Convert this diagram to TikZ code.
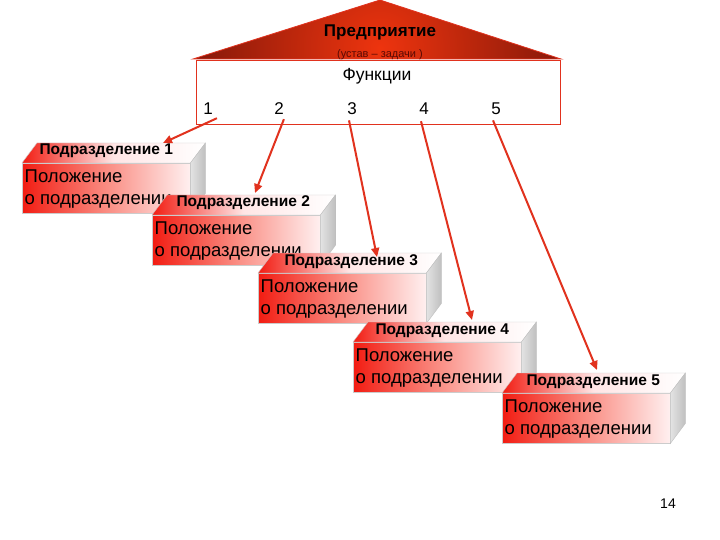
\documentclass[tikz,border=0pt]{standalone}
\usepackage{fontspec}
\setmainfont{Liberation Sans}
\usetikzlibrary{arrows.meta,calc}
\definecolor{brred}{RGB}{238,52,14}
\definecolor{dkred}{RGB}{125,22,10}
\definecolor{subred}{RGB}{90,10,4}
\definecolor{frontred}{RGB}{242,28,18}
\definecolor{frontmid}{RGB}{250,140,130}
\definecolor{frontpink}{RGB}{255,240,240}
\definecolor{linered}{RGB}{225,50,30}
\tikzset{
  front/.style={draw=gray!40, line width=0.4pt, left color=frontred, right color=frontpink, middle color=frontmid,
    minimum width=168pt, minimum height=50pt, inner sep=0pt, anchor=north west},
  fronttext/.style={inner sep=0pt, align=left, anchor=north west, font=\fontsize{18.5}{21.5}\selectfont},
  topface/.style={draw=gray!40, line width=0.4pt, left color=frontred, right color=white, middle color=red!10!white},
  sideface/.style={draw=gray!50, line width=0.4pt, left color=gray!22, right color=gray!50},
  toplabel/.style={font=\bfseries\fontsize{15.5}{17}\selectfont, inner sep=0pt, anchor=base},
  num/.style={font=\fontsize{17}{19}\selectfont, inner sep=1pt},
  conn/.style={draw=linered, line width=2pt, -{Triangle[width=8pt,length=9pt]}}
}
\newcommand\mycube[4]{%
  \node[front] (#1) at (#2) {};
  \node[fronttext] (#1txt) at ($(#1.north west)+(2.5,7)$) {Положение\\о подразделении};
  \path[topface] (#1.north west) -- ++(15,-20) -- ($(#1.north east)+(15,-20)$) -- (#1.north east) -- cycle;
  \path[sideface] (#1.north east) -- ++(15,-20) -- ($(#1.south east)+(15,-20)$) -- (#1.south east) -- cycle;
  \node[toplabel] (#1lab) at ($(#1.north)+(#4,-8)$) {Подразделение #3};
  \coordinate (#1top) at ($(#1.north west)+(15,-20)$);
}
\begin{document}
\begin{tikzpicture}[x=1pt,y=-1pt]
\useasboundingbox[fill=white] (0,0) rectangle (720,540);
% roof
\begin{scope}
  \clip (193,59) -- (380,0) -- (561,59) -- cycle;
  \shade[inner color=brred, outer color=dkred] (380,48) circle[radius=200];
\end{scope}
\draw[linered, line width=0.8pt] (193,59) -- (380,0) -- (561,59) -- cycle;
\node[font=\bfseries\fontsize{17}{19}\selectfont, inner sep=0pt, anchor=base] (ent) at (380,37) {Предприятие};
\node[font=\fontsize{11}{12}\selectfont, text=subred, inner sep=0pt, anchor=base] (ust) at (380,57.5) {(устав – задачи )};
% functions box
\node[draw=linered, line width=1.2pt, minimum width=364pt, minimum height=64pt, anchor=north west, inner sep=0pt] (func) at (196,60) {};
\node[font=\fontsize{17.5}{19}\selectfont, inner sep=0pt, anchor=base] (ftxt) at (377,81) {Функции};
\node[num, anchor=base] (n1) at (208,115) {1};
\node[num, anchor=base] (n2) at (279,115) {2};
\node[num, anchor=base] (n3) at (352,115) {3};
\node[num, anchor=base] (n4) at (424,115) {4};
\node[num, anchor=base] (n5) at (496,115) {5};
% cubes
\mycube{b1}{22,163}{1}{0}
\mycube{b2}{152,215}{2}{7}
\mycube{b3}{258,273}{3}{9}
\mycube{b4}{353,342}{4}{5}
\mycube{b5}{502,393}{5}{7}
% arrow ends
\coordinate (e1) at ($(b1top)+(126,0)$);
\coordinate (e2) at ($(b2top)+(88,-2)$);
\coordinate (e3) at ($(b3top)+(104,4)$);
\coordinate (e4) at ($(b4top)+(104,-2)$);
\coordinate (e5) at ($(b5top)+(80,-3)$);
\draw[conn] ($(n1.south east)+(3,2)$) -- (e1);
\draw[conn] ($(n2.south east)+(-1,3)$) -- (e2);
\draw[conn] ($(n3.south)+(-3,4)$) -- (e3);
\draw[conn] ($(n4.south)+(-3,5)$) -- (e4);
\draw[conn] ($(n5.south)+(-3,4)$) -- (e5);
\node[font=\fontsize{14}{16}\selectfont, inner sep=0pt] (pg) at (668,504) {14};
\end{tikzpicture}
\end{document}
